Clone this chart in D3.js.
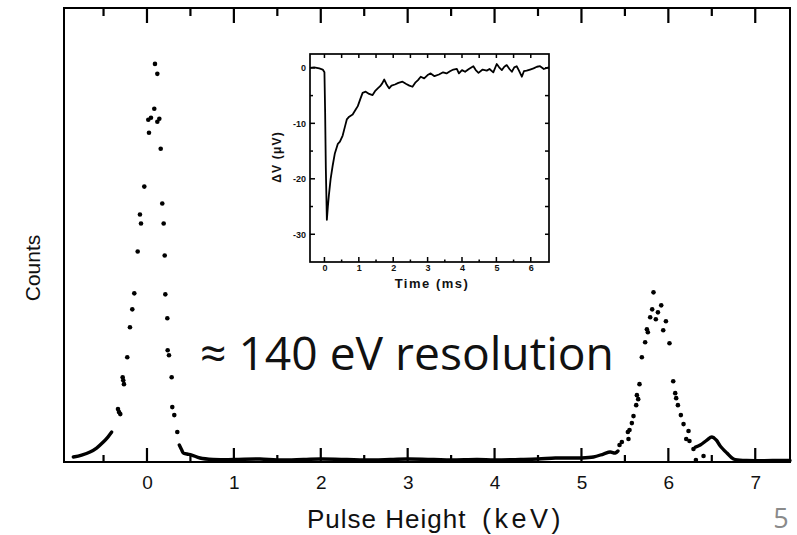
<!DOCTYPE html>
<html>
<head>
<meta charset="utf-8">
<script src="https://cdn.jsdelivr.net/npm/d3@7"></script>
<style>
  html, body { margin: 0; padding: 0; background: #fff; }
  svg { display: block; }
</style>
</head>
<body>
<div id="chart"></div>
<script>
// pulse height spectrum (keV, counts in arbitrary units)
const peakDots = [
  [0.092, 399], [0.119, 389], [0.084, 354], [0.015, 343], [0.046, 345], [0.119, 341],
  [0.142, 344], [0.023, 330], [0.158, 314], [-0.031, 276], [0.176, 259], [-0.081, 248],
  [-0.069, 239], [0.192, 239], [-0.107, 211], [0.204, 207], [-0.146, 169], [0.211, 168],
  [-0.169, 153], [0.234, 144], [-0.196, 135], [0.238, 112], [0.253, 107], [-0.227, 105],
  [-0.28, 85], [-0.273, 82], [-0.265, 78], [0.284, 85], [-0.334, 53], [-0.322, 50],
  [-0.307, 48], [0.291, 55], [0.314, 47], [0.349, 30],
  // Mn K-alpha/K-beta region
  [5.438, 17], [5.465, 20], [5.534, 30], [5.541, 23], [5.553, 32], [5.580, 39], [5.599, 46],
  [5.630, 57], [5.638, 67], [5.653, 63], [5.668, 78], [5.695, 105], [5.733, 120], [5.753, 133],
  [5.764, 130], [5.791, 145], [5.814, 153], [5.829, 170], [5.856, 143], [5.880, 150],
  [5.918, 157], [5.941, 132], [5.972, 141], [6.013, 119], [6.056, 81], [6.079, 69],
  [6.090, 64], [6.110, 57], [6.144, 47], [6.175, 38], [6.206, 23], [6.232, 31], [6.243, 21],
  [6.289, 13], [6.317, 2], [6.405, 6]
];

// dense stretches of the spectrum that print as a solid line
const tailSegments = [
  [[-0.848, 5], [-0.752, 7], [-0.656, 10], [-0.58, 14], [-0.503, 20], [-0.45, 25], [-0.406, 30]],
  [[0.372, 17], [0.40, 12], [0.418, 9], [0.46, 8], [0.515, 7], [0.61, 4], [0.76, 2.5],
   [1.0, 2.5], [1.3, 3], [1.5, 2], [1.8, 2.5], [2.0, 3], [2.3, 2.5], [2.5, 2], [2.8, 2.5],
   [3.0, 3], [3.3, 2.5], [3.5, 2], [3.8, 2.5], [4.0, 2], [4.3, 2.5], [4.5, 3], [4.7, 4],
   [4.85, 4], [4.98, 4], [5.138, 5], [5.253, 8], [5.33, 10], [5.388, 9], [5.42, 11]],
  [[6.312, 15], [6.367, 17], [6.444, 22], [6.501, 25], [6.551, 22], [6.597, 16],
   [6.674, 9], [6.75, 3], [6.9, 1.5], [7.2, 1.5], [7.4, 1.5]]
];

const xMajor = [0, 1, 2, 3, 4, 5, 6, 7];
const xMinor = [-0.5, 0.5, 1.5, 2.5, 3.5, 4.5, 5.5, 6.5];

// inset: a single pulse, time (ms) vs delta V (microvolts)
const pulse = [
  [-0.42, 0], [-0.3, 0.1], [-0.15, -0.1], [-0.05, -0.3], [0, -0.8], [0.02, -8], [0.04, -18],
  [0.07, -27.4], [0.1, -25], [0.13, -22.9], [0.18, -20], [0.24, -17.6], [0.3, -15.5],
  [0.39, -13.7], [0.45, -13.3], [0.53, -12.2], [0.6, -10.5], [0.65, -9.3], [0.72, -8.8],
  [0.82, -8.4], [0.9, -7.6], [0.97, -6.9], [1.05, -5.5], [1.11, -4.5], [1.2, -4.3],
  [1.3, -4.7], [1.4, -4.9], [1.47, -4.2], [1.55, -3.7], [1.62, -3.3], [1.68, -2.8],
  [1.74, -2.1], [1.8, -2.9], [1.88, -3.7], [1.95, -3.2], [2.05, -3.0], [2.15, -2.7],
  [2.27, -2.5], [2.38, -2.9], [2.47, -3.2], [2.56, -3.4], [2.65, -2.6], [2.72, -2.2],
  [2.8, -1.6], [2.9, -1.9], [3.0, -1.3], [3.09, -1.0], [3.2, -1.5], [3.33, -1.2],
  [3.45, -0.8], [3.55, -1.0], [3.65, -0.6], [3.75, -0.3], [3.85, -0.2], [3.91, -1.0],
  [4.0, -0.4], [4.09, -0.7], [4.2, -0.2], [4.33, 0.3], [4.4, -0.4], [4.48, -0.9],
  [4.6, -0.3], [4.72, -0.5], [4.8, -0.2], [4.91, -0.8], [5.01, 0.7], [5.08, 0.1],
  [5.16, -0.4], [5.23, 0.2], [5.30, 0.5], [5.38, -0.2], [5.45, -0.7], [5.52, 0.1],
  [5.59, 0.3], [5.65, -0.4], [5.74, -1.6], [5.8, -0.6], [5.88, -0.5], [5.98, -0.3],
  [6.08, -0.1], [6.18, 0.2], [6.27, 0.3], [6.38, -0.2], [6.47, 0], [6.53, 0.1]
];
const insetTimeTicks = [0, 1, 2, 3, 4, 5, 6];
const insetHalfTicks = [0.5, 1.5, 2.5, 3.5, 4.5, 5.5];
const insetVoltTicks = [0, -10, -20, -30];
const insetVoltMinor = [-5, -15, -25];

const annotation = '\u2248 140 eV resolution';
const pageNumber = '5';

const width = 797, height = 535;
const svg = d3.select('#chart').append('svg').attr('width', width).attr('height', height);
const scanFont = '"Liberation Sans", Arial, sans-serif';

// short inward tick marks along one edge of a frame, drawn as thin filled bars
function drawTicks(values, scale, edge, at, len, sw) {
  const horiz = edge === 'top' || edge === 'bottom';
  const inward = (edge === 'bottom' || edge === 'right') ? -len : 0;
  svg.append('g').selectAll('rect').data(values).enter().append('rect')
    .attr('x', d => horiz ? scale(d) - sw / 2 : at + inward)
    .attr('y', d => horiz ? at + inward : scale(d) - sw / 2)
    .attr('width', horiz ? sw : len)
    .attr('height', horiz ? len : sw)
    .attr('fill', '#000');
}

// ---- main spectrum ----
const plot = { left: 64, right: 790, top: 8, bottom: 462 };
const x = d3.scaleLinear().domain([-0.955, 7.4]).range([plot.left, plot.right]);
const y = d3.scaleLinear().domain([0, 455]).range([plot.bottom, plot.top]);

svg.append('rect')
  .attr('x', plot.left).attr('y', plot.top)
  .attr('width', plot.right - plot.left).attr('height', plot.bottom - plot.top)
  .attr('fill', 'none').attr('stroke', '#000').attr('stroke-width', 2);

drawTicks(xMajor, x, 'bottom', plot.bottom, 14, 2.2);
drawTicks(xMinor, x, 'bottom', plot.bottom, 7, 2.2);
drawTicks(xMajor, x, 'top', plot.top, 15, 2.2);
drawTicks(xMinor, x, 'top', plot.top, 8, 2.2);

const xLabels = svg.append('g').attr('transform', `translate(0,${plot.bottom})`)
  .call(d3.axisBottom(x).tickValues(xMajor).tickSize(0).tickPadding(14).tickFormat(d3.format('d')));
xLabels.select('.domain').remove();
xLabels.selectAll('text')
  .attr('fill', '#111').style('font-family', scanFont).style('font-size', '19px');

const xTitle = svg.append('text')
  .attr('x', 307).attr('y', 528)
  .style('font-family', scanFont).style('font-size', '26px').attr('fill', '#111');
xTitle.append('tspan').style('letter-spacing', '1px').text('Pulse Height');
xTitle.append('tspan').attr('x', 482).style('font-size', '27px').style('letter-spacing', '3.5px').text('(keV)');

svg.append('text')
  .attr('transform', 'translate(40,268) rotate(-90)')
  .attr('text-anchor', 'middle')
  .style('font-family', scanFont).style('font-size', '21px').attr('fill', '#111')
  .text('Counts');

const line = d3.line().x(d => x(d[0])).y(d => y(d[1])).curve(d3.curveCatmullRom);
svg.append('g').selectAll('path').data(tailSegments).enter().append('path')
  .attr('d', line)
  .attr('fill', 'none').attr('stroke', '#000').attr('stroke-width', 3.4)
  .attr('stroke-linecap', 'round').attr('stroke-linejoin', 'round');

svg.append('g').selectAll('circle').data(peakDots).enter().append('circle')
  .attr('cx', d => x(d[0])).attr('cy', d => y(d[1]))
  .attr('r', 2.3).attr('fill', '#000');

// ---- inset pulse ----
const inset = { left: 310, right: 549, top: 54, bottom: 262 };
const ix = d3.scaleLinear().domain([-0.42, 6.53]).range([inset.left, inset.right]);
const iy = d3.scaleLinear().domain([-35, 2.5]).range([inset.bottom, inset.top]);

svg.append('rect')
  .attr('x', inset.left).attr('y', inset.top)
  .attr('width', inset.right - inset.left).attr('height', inset.bottom - inset.top)
  .attr('fill', '#fff').attr('stroke', '#000').attr('stroke-width', 1.7);

drawTicks(insetTimeTicks, ix, 'bottom', inset.bottom, 5, 1.5);
drawTicks(insetHalfTicks, ix, 'bottom', inset.bottom, 2.5, 1.5);
drawTicks(insetTimeTicks.concat(insetHalfTicks), ix, 'top', inset.top, 4, 1.5);
drawTicks(insetVoltTicks, iy, 'left', inset.left, 5, 1.5);
drawTicks(insetVoltMinor, iy, 'left', inset.left, 3, 1.5);
drawTicks(insetVoltTicks.concat(insetVoltMinor), iy, 'right', inset.right, 4, 1.5);

const tLabels = svg.append('g').attr('transform', `translate(0,${inset.bottom})`)
  .call(d3.axisBottom(ix).tickValues(insetTimeTicks).tickSize(0).tickPadding(3).tickFormat(d3.format('d')));
tLabels.select('.domain').remove();
tLabels.selectAll('text')
  .style('font-family', scanFont).style('font-size', '9px').style('font-weight', 'bold').attr('fill', '#111');

const vLabels = svg.append('g').attr('transform', `translate(${inset.left},0)`)
  .call(d3.axisLeft(iy).tickValues(insetVoltTicks).tickSize(0).tickPadding(4).tickFormat(d => String(d)));
vLabels.select('.domain').remove();
vLabels.selectAll('text')
  .style('font-family', scanFont).style('font-size', '9px').style('font-weight', 'bold').attr('fill', '#111');

svg.append('text')
  .attr('x', 432).attr('y', 288).attr('text-anchor', 'middle')
  .style('font-family', scanFont).style('font-size', '13px').style('font-weight', 'bold')
  .style('letter-spacing', '1.5px').attr('fill', '#111')
  .text('Time (ms)');

svg.append('text')
  .attr('transform', 'translate(281,157) rotate(-90)').attr('text-anchor', 'middle')
  .style('font-family', scanFont).style('font-size', '12px').style('font-weight', 'bold')
  .style('letter-spacing', '1.2px').attr('fill', '#111')
  .text('\u0394V (\u03bcV)');

svg.append('path')
  .datum(pulse)
  .attr('d', d3.line().x(d => ix(d[0])).y(d => iy(d[1])))
  .attr('fill', 'none').attr('stroke', '#000').attr('stroke-width', 1.8)
  .attr('stroke-linejoin', 'round');

// ---- slide annotations ----
const note = svg.append('text')
  .attr('x', 200).attr('y', 370)
  .style('font-family', '"Open Sans", sans-serif').style('font-size', '44px').attr('fill', '#111')
  .text(annotation);
const w = note.node().getComputedTextLength();
note.style('font-size', `${44 * 414 / w}px`);

svg.append('text')
  .attr('x', 781).attr('y', 528).attr('text-anchor', 'middle')
  .style('font-family', '"Open Sans", sans-serif').style('font-size', '27px').attr('fill', '#8a8a8a')
  .text(pageNumber);
</script>
</body>
</html>
